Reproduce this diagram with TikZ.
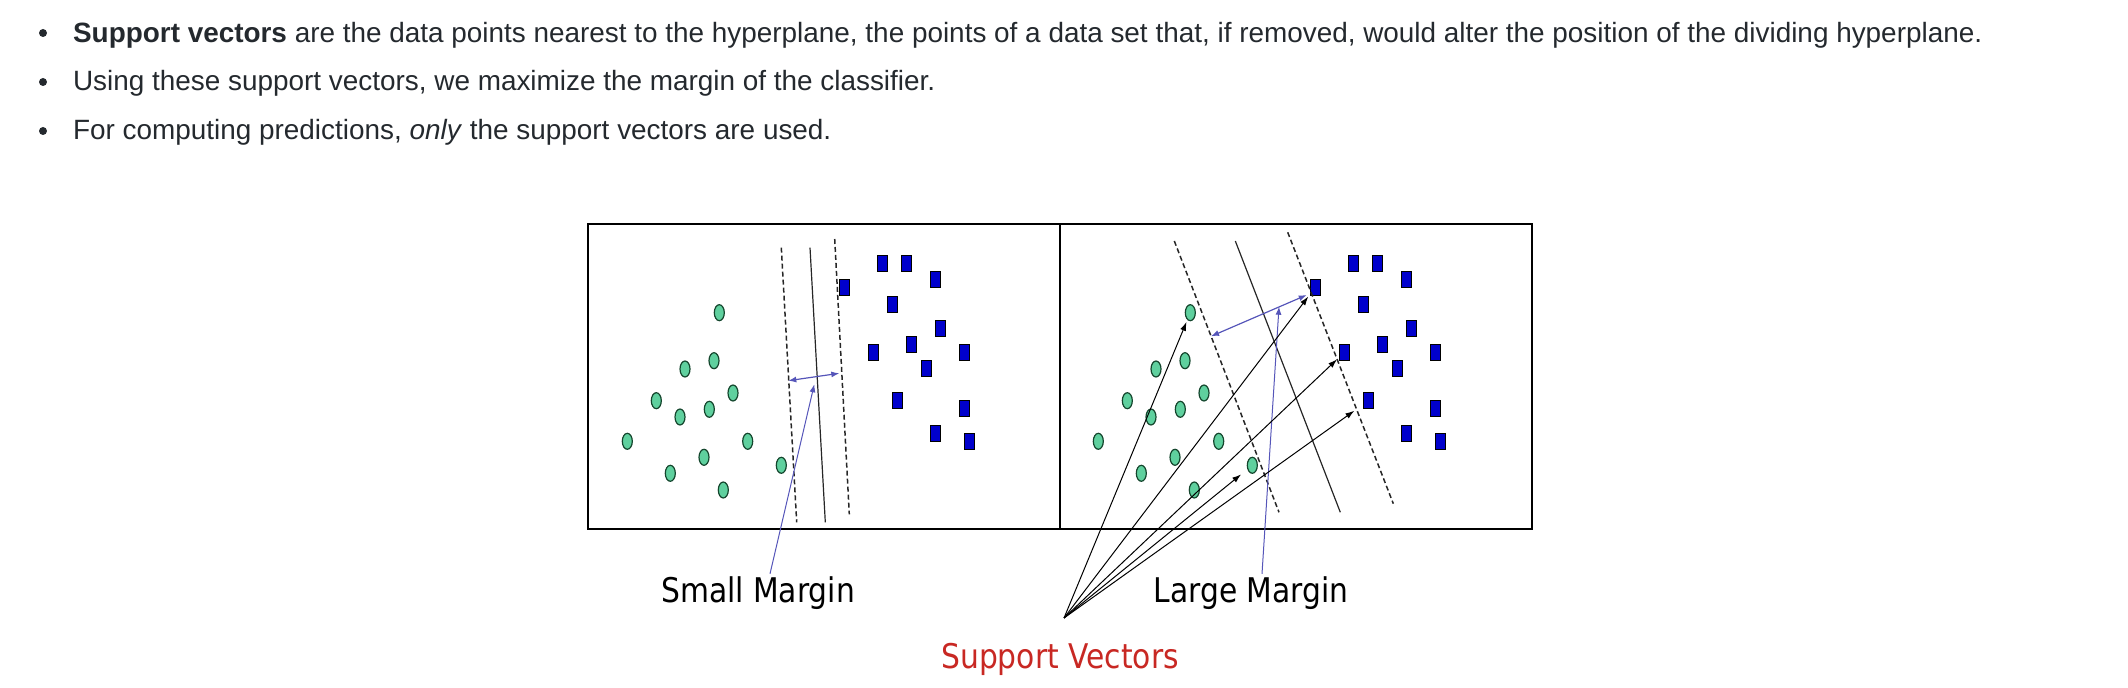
\documentclass[tikz,border=0pt]{standalone}
\usepackage{fontspec}
\setmainfont{Liberation Sans}
\newfontfamily\lblfont[FakeStretch=0.875]{DejaVu Sans}
\usepackage{xcolor}
\usetikzlibrary{arrows.meta,positioning,shapes.geometric}
\definecolor{txtgray}{RGB}{36,41,46}
\definecolor{ptgreen}{RGB}{95,208,158}
\definecolor{ptedge}{RGB}{20,70,45}
\definecolor{ptblue}{RGB}{0,0,204}
\definecolor{ptrblue}{RGB}{85,85,185}
\definecolor{svred}{RGB}{200,40,35}

\begin{document}
\begin{tikzpicture}[x=0.5pt,y=-0.5pt,
  item/.style={anchor=base west,inner sep=0pt,text=txtgray,
               font=\fontsize{13.95pt}{16pt}\selectfont},
  bul/.style={circle,fill=txtgray,inner sep=0pt,minimum size=4pt},
  greenpt/.style={ellipse,draw=ptedge,fill=ptgreen,line width=0.6pt,
                  inner sep=0pt,minimum width=5pt,minimum height=8pt},
  bluept/.style={rectangle,draw=black,fill=ptblue,line width=0.5pt,
                 inner sep=0pt,minimum width=5pt,minimum height=8pt},
  hyp/.style={black!85,line width=0.6pt},
  marg/.style={black!85,line width=0.75pt,dash pattern=on 2.5pt off 1.5pt},
  gap/.style={{Latex[length=4pt,width=3pt]}-{Latex[length=4pt,width=3pt]},ptrblue,line width=0.6pt},
  ptr/.style={-{Latex[length=4pt,width=3pt]},ptrblue,line width=0.5pt},
  sva/.style={-{Latex[length=4.5pt,width=3pt]},black,line width=0.5pt,shorten >=1pt},
  lbl/.style={anchor=base,inner sep=1.5pt,font=\lblfont\fontsize{17pt}{19pt}\selectfont}]
\useasboundingbox (0,0) rectangle (2128,688);

% bullet list
\node[bul] (dot1) at (43,33) {};
\node[bul] (dot2) at (43,82) {};
\node[bul] (dot3) at (43,131) {};
\node[item] (item1) at (72.7,42.7) {\textbf{Support vectors} are the data points nearest to the hyperplane, the points of a data set that, if removed, would alter the position of the dividing hyperplane.};
\node[item] (item2) at (72.7,91) {Using these support vectors, we maximize the margin of the classifier.};
\node[item] (item3) at (72.7,140) {For computing predictions, \textit{only} the support vectors are used.};

% frames
\draw[line width=1pt] (588,224) rectangle (1532,529);
\draw[line width=1pt] (1060,224) -- (1060,529);

% data points, left panel and the same set shifted into the right panel
\foreach \px/\py [count=\i] in {719.3/312.7,714/360.7,685/369,733/393,656.3/400.7,
    709.3/409.3,680/417,627.3/441.3,747.7/441.3,704/457.3,670.3/473.3,781.3/465.3,723.3/490}
{
  \node[greenpt] (gL\i) at (\px,\py) {};
  \node[greenpt] (gR\i) at (\px+471,\py) {};
}
\foreach \px/\py [count=\i] in {882.3/264,906/264,935.3/280,844/287.7,892.3/304.3,
    940.7/329,873/352.7,911.3/344.7,964.3/352.7,926/368.7,897/401,964.3/409,935.3/433.7,969.7/441.7}
{
  \node[bluept] (bL\i) at (\px,\py) {};
  \node[bluept] (bR\i) at (\px+471,\py) {};
}

% small margin
\coordinate (lmA1) at (781.3,247.7);  \coordinate (lmA2) at (796.7,522.3);
\coordinate (lhA1) at (810,247.7);    \coordinate (lhA2) at (825.3,522.3);
\coordinate (lmB1) at (834.7,239);    \coordinate (lmB2) at (849.3,514.3);
\draw[marg] (lmA1) -- (lmA2);
\draw[hyp] (lhA1) -- (lhA2);
\draw[marg] (lmB1) -- (lmB2);
\coordinate (lgap1) at (788.3,380.7);
\coordinate (lgap2) at (839.3,373.3);
\coordinate (lgapmid) at (814.3,384.3);
\draw[gap] (lgap1) -- (lgap2);

% large margin
\coordinate (rmA1) at (1174.3,241);   \coordinate (rmA2) at (1279,512.3);
\coordinate (rhA1) at (1235.3,241);   \coordinate (rhA2) at (1340.3,512.3);
\coordinate (rmB1) at (1287.7,232.3); \coordinate (rmB2) at (1393.3,503.7);
\draw[marg] (rmA1) -- (rmA2);
\draw[hyp] (rhA1) -- (rhA2);
\draw[marg] (rmB1) -- (rmB2);
\coordinate (rgap1) at (1211,336.3);
\coordinate (rgap2) at (1306.7,295);
\coordinate (rgapmid) at (1279,306.7);
\draw[gap] (rgap1) -- (rgap2);

% labels
\node[lbl] (smallm) at (758,603) {Small Margin};
\node[lbl] (largem) at (1251,603) {Large Margin};
\node[lbl,text=svred] (svlabel) at (1060,668) {Support Vectors};
\draw[ptr] ([xshift=6pt]smallm.north) -- (lgapmid);
\draw[ptr] ([xshift=5.5pt]largem.north) -- (rgapmid);

% support vector arrows
\coordinate (sv) at (1064,618);
\draw[sva] (sv) -- (gR1);
\draw[sva] (sv) -- (bR4);
\draw[sva] (sv) -- (bR7);
\draw[sva,shorten >=5pt] (sv) -- (bR11);
\draw[sva,shorten >=4pt] (sv) -- (gR12);
\end{tikzpicture}
\end{document}
